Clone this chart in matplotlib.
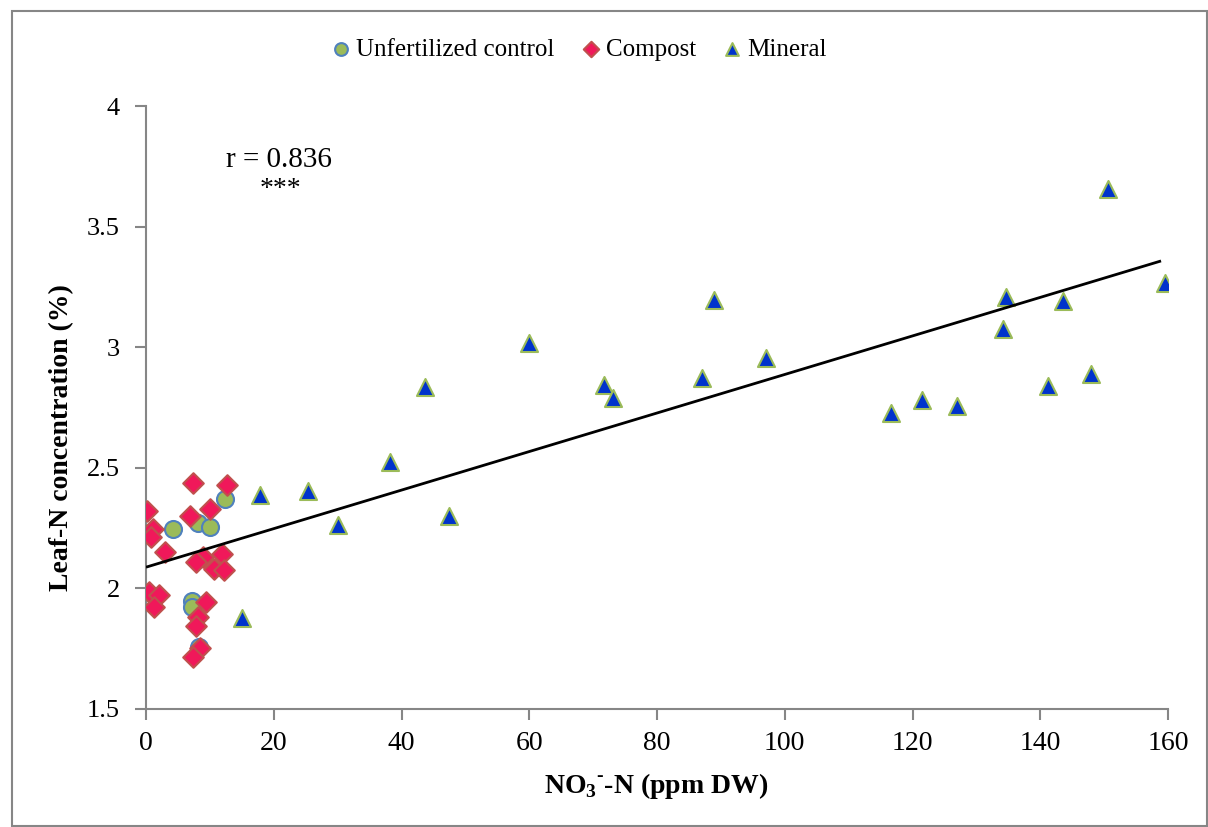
import numpy as np
import matplotlib
matplotlib.use('Agg')
import matplotlib.pyplot as plt
from matplotlib.patches import Rectangle

plt.rcParams['font.family'] = ['Liberation Serif', 'DejaVu Serif']

# Unfertilized control
ctrl_x = [12.37, 4.27, 8.19, 10.02, 7.15, 7.15, 8.34]
ctrl_y = [2.372, 2.247, 2.272, 2.256, 1.949, 1.922, 1.756]

# Compost
comp_x = [7.40, 12.63, 0.10, 6.89, 10.00, 1.05, 0.74, 2.97, 11.85, 8.97, 7.83,
          10.64, 12.26, 0.52, 2.08, 1.25, 9.39, 8.19, 7.83, 8.45, 7.40]
comp_y = [2.438, 2.429, 2.321, 2.300, 2.328, 2.245, 2.212, 2.152, 2.143, 2.129, 2.111,
          2.080, 2.076, 1.986, 1.973, 1.924, 1.942, 1.883, 1.844, 1.752, 1.717]

# Mineral
min_x = [17.84, 15.0, 25.4, 30.0, 38.2, 43.7, 47.5, 60.0, 71.7, 73.1, 88.95, 87.1,
         97.1, 116.6, 121.5, 126.9, 134.7, 134.1, 143.6, 141.2, 147.9, 159.5, 150.6]
min_y = [2.387, 1.876, 2.404, 2.263, 2.523, 2.836, 2.300, 3.016, 2.842, 2.788, 3.196, 2.871,
         2.957, 2.726, 2.781, 2.757, 3.209, 3.075, 3.193, 2.839, 2.888, 3.265, 3.655]

# trendline (slope, intercept) and its x span
trend_coef = [0.00799, 2.088]
trend_span = [0.2, 158.7]

x_ticks = [0, 20, 40, 60, 80, 100, 120, 140, 160]
y_ticks = [1.5, 2, 2.5, 3, 3.5, 4]
y_labels = ['1.5', '2', '2.5', '3', '3.5', '4']

fig = plt.figure(figsize=(12.08, 8.27), dpi=100)
ax = fig.add_axes([0.1209, 0.1427, 0.9669 - 0.1209, 0.8718 - 0.1427])

ax.scatter(ctrl_x, ctrl_y, s=150, marker='o', facecolor='#9BBB59', edgecolor='#4F81BD',
           linewidth=1.5, label='Unfertilized control', zorder=3)
ax.scatter(comp_x, comp_y, s=110, marker='D', facecolor='#F0185A', edgecolor='#C0504D',
           linewidth=1.5, label='Compost', zorder=4)
ax.scatter(min_x, min_y, s=150, marker='^', facecolor='#0033CC', edgecolor='#9BBB59',
           linewidth=1.5, label='Mineral', zorder=5)

xl = np.array(trend_span)
ax.plot(xl, np.polyval(trend_coef, xl), color='black', lw=2, zorder=6)

ax.text(20.8, 3.776, 'r = 0.836', fontsize=21, ha='center', va='center')
ax.text(21.0, 3.655, '***', fontsize=20, ha='center', va='center')

ax.set_xlim(0, 160)
ax.set_ylim(1.5, 4)
ax.set_xticks(x_ticks)
ax.set_yticks(y_ticks)
ax.set_yticklabels(y_labels)
for s in ['top', 'right']:
    ax.spines[s].set_visible(False)
for s in ['left', 'bottom']:
    ax.spines[s].set_color('#868686')
    ax.spines[s].set_linewidth(1.5)
ax.tick_params(direction='out', length=8, width=1.5, color='#868686', labelsize=20)
ax.tick_params(axis='x', pad=8)
ax.tick_params(axis='y', pad=11, labelsize=19)

ax.set_xlabel('NO$_\\mathregular{3}$$^\\mathregular{\u2010}$-N (ppm DW)', fontsize=20,
              fontweight='bold')
ax.set_ylabel('Leaf-N concentration (%)', fontsize=20, fontweight='bold')
ax.xaxis.set_label_coords(0.499, -0.103)
ax.yaxis.set_label_coords(-0.070, 0.45)

fig.legend(loc='center', bbox_to_anchor=(0.479, 0.94), ncol=3, frameon=False,
           fontsize=18, handlelength=0.8, handletextpad=0.2, columnspacing=1.05,
           markerscale=0.75)

# chart frame (top/left inset a little)
fig.add_artist(Rectangle((12 / 1208, 0.001), 1 - 13 / 1208, 1 - 12 / 827,
                         transform=fig.transFigure, fill=False,
                         edgecolor='#868686', lw=1.5))

fig.savefig('out.png', dpi=100)
